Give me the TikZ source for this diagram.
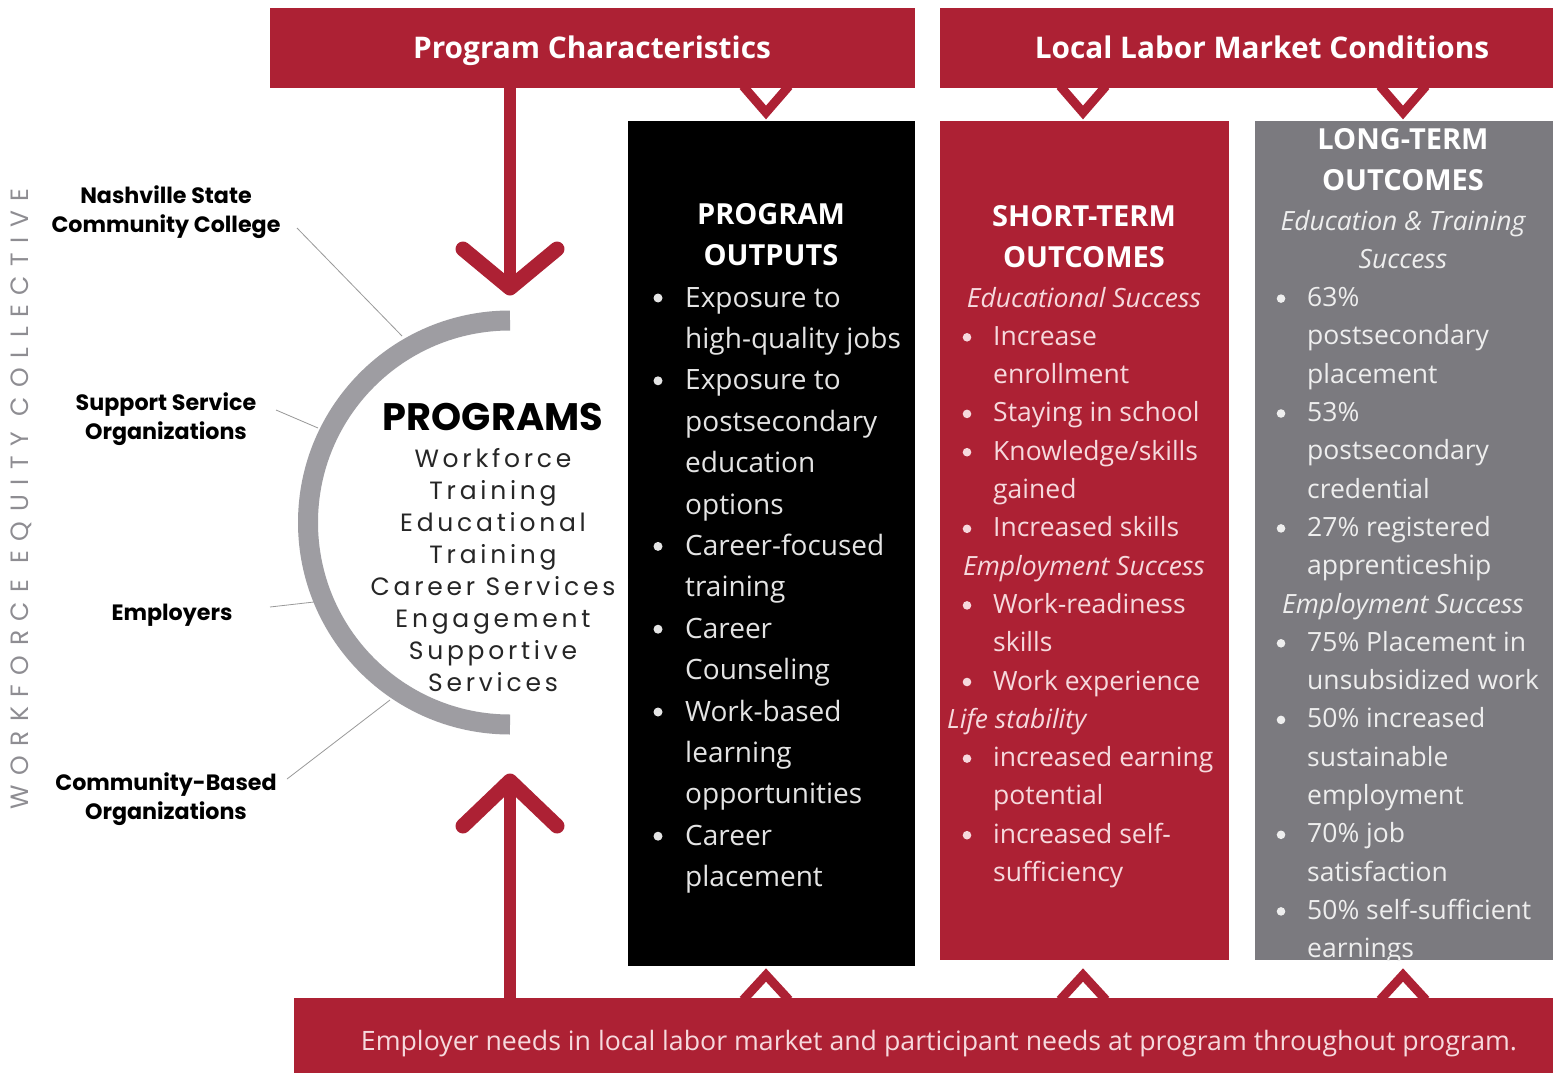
\documentclass[tikz,border=0pt]{standalone}
\usepackage{fontspec}
\setmainfont{Open Sans}
\newfontfamily\pop{Poppins}
\newfontfamily\popls{Poppins}[LetterSpace=15]
\newfontfamily\popvt{Poppins}[LetterSpace=38]
\definecolor{wred}{HTML}{AD2134}
\definecolor{wgray}{HTML}{7B7A7F}
\definecolor{agray}{HTML}{9E9DA2}
\definecolor{vgray}{HTML}{8E8D92}
\definecolor{tblk}{HTML}{E4E4E4}
\definecolor{tred}{HTML}{F6D9DD}
\definecolor{tgry}{HTML}{EEEEEE}
\begin{document}
\begin{tikzpicture}[x=1pt,y=-1pt,
  box/.style={inner sep=0pt, draw=none},
  bantext/.style={text=white, font=\bfseries\fontsize{29.8}{32}\selectfont, inner sep=0pt, anchor=base},
  chev/.style={draw=wred, line width=9pt, line join=miter},
  redarrow/.style={draw=wred, line width=12pt},
  redhead/.style={draw=wred, line width=15pt, line cap=round, line join=round},
  coltitle/.style={font=\bfseries\fontsize{29}{41}\selectfont, align=center, inner sep=0pt},
  blktext/.style={font=\fontsize{28}{34}\selectfont, text=tblk, inner sep=0pt},
  colt/.style={font=\fontsize{26.5}{32}\selectfont, inner sep=0pt},
  colit/.style={font=\itshape\fontsize{26.5}{32}\selectfont, inner sep=0pt},
  orglabel/.style={font=\pop\bfseries\fontsize{22.2}{28.5}\selectfont, align=center, inner sep=0pt},
  thinline/.style={draw=gray!80, line width=0.8pt}
]
\useasboundingbox[fill=white] (0,0) rectangle (1553,1073);

% ---------- top banners ----------
\node[box, fill=wred, minimum width=645, minimum height=80] (pc) at (592.5,48) {};
\node[bantext] (pctext) at (592,58.5) {Program Characteristics};
\node[box, fill=wred, minimum width=613, minimum height=80] (lm) at (1246.5,48) {};
\node[bantext] (lmtext) at (1262,58.5) {Local Labor Market Conditions};

% ---------- columns ----------
\node[box, fill=black, minimum width=287, minimum height=845] (outp) at (771.5,543.5) {};
\node[box, fill=wred, minimum width=289, minimum height=839] (short) at (1084.5,540.5) {};
\node[box, fill=wgray, minimum width=298, minimum height=839] (long) at (1404,540.5) {};

% ---------- bottom banner ----------
\node[box, fill=wred, minimum width=1259, minimum height=75] (emp) at (923.5,1035.5) {};
\node[text=tred, font=\fontsize{26.7}{30}\selectfont, inner sep=0pt, anchor=base] (emptext) at (939,1050)
  {Employer needs in local labor market and participant needs at program throughout program.};

% ---------- chevrons ----------
\foreach \cx in {766,1083,1403}{
  \draw[chev] (\cx-23,86) -- (\cx,112.5) -- (\cx+23,86);
  \draw[chev] (\cx-23,1000) -- (\cx,975) -- (\cx+23,1000);
}

% ---------- red arrows ----------
\coordinate (downtip) at (510,288);
\coordinate (uptip) at (510,781);
\draw[redarrow] (pc.south -| downtip) -- (downtip);
\draw[redhead] (463,249) -- (downtip) -- (557,249);
\draw[redarrow] (emp.north -| uptip) -- (uptip);
\draw[redhead] (463,826) -- (uptip) -- (557,826);

% ---------- arc ----------
\coordinate (arccenter) at (510,522.5);
\draw[agray, line width=20pt] (510,320.5) arc[start angle=270, end angle=90, radius=202];

% ---------- programs ----------
\node[font=\pop\bfseries\fontsize{38.3}{42}\selectfont, inner sep=0pt] (prog) at (493,417) {PROGRAMS};
\node[font=\popls\fontsize{25}{32}\selectfont, align=center, inner sep=0pt, text=black!85] (proglist) at (493,570)
  {Workforce\\Training\\Educational\\Training\\Career Services\\Engagement\\Supportive\\Services};

% ---------- left labels ----------
\node[orglabel] (nsc) at (166,212) {Nashville State\\Community College};
\node[orglabel] (sso) at (166,419) {Support Service\\Organizations};
\node[orglabel] (empl) at (172,615) {Employers};
\node[orglabel] (cbo) at (166,799) {Community-Based\\Organizations};

\coordinate (s1) at (297,228); \coordinate (e1) at (402,336);
\coordinate (s2) at (276,410); \coordinate (e2) at (318,428);
\coordinate (s3) at (270,607); \coordinate (e3) at (314,602);
\coordinate (s4) at (287,779); \coordinate (e4) at (390,700);
\draw[thinline] (s1) -- (e1);
\draw[thinline] (s2) -- (e2);
\draw[thinline] (s3) -- (e3);
\draw[thinline] (s4) -- (e4);

\node[rotate=90, font=\popvt\fontsize{25}{25}\selectfont, text=vgray, inner sep=0pt] (wec) at (21,499)
  {WORKFORCE EQUITY COLLECTIVE};

% ---------- program outputs ----------
\node[coltitle, text=white] (outtitle) at (771,235) {PROGRAM\\OUTPUTS};
\foreach \i/\s in {0/Exposure to, 1/high-quality jobs, 2/Exposure to, 3/postsecondary, 4/education, 5/options,
  6/Career-focused, 7/training, 8/Career, 9/Counseling, 10/Work-based, 11/learning, 12/opportunities,
  13/Career, 14/placement}{
  \node[blktext, anchor=base west] (ob\i) at (685,297+41.4*\i+10) {\s};
}
\foreach \i in {0,2,6,8,10,13}{
  \fill[tblk] (658,297+41.4*\i+1) circle[radius=4.5];
}

% ---------- short-term outcomes ----------
\node[coltitle, text=white] (sttitle) at (1084,237) {SHORT-TERM\\OUTCOMES};
\foreach \i/\s in {0/Educational Success, 7/Employment Success}{
  \node[colit, text=tred, anchor=base] (sh\i) at (1084,298+38.3*\i+9) {\s};
}
\node[colit, text=tred, anchor=base west] (sh11) at (947,298+38.3*11+9) {Life stability};
\foreach \i/\s in {1/Increase, 2/enrollment, 3/Staying in school, 4/Knowledge\slash skills, 5/gained,
  6/Increased skills, 8/Work-readiness, 9/skills, 10/Work experience, 12/increased earning,
  13/potential, 14/increased self-, 15/sufficiency}{
  \node[colt, text=tred, anchor=base west] (st\i) at (993,298+38.3*\i+9) {\s};
}
\foreach \i in {1,3,4,6,8,10,12,14}{
  \fill[tred] (967,298+38.3*\i+1) circle[radius=4.3];
}

% ---------- long-term outcomes ----------
\node[coltitle, text=white] (lttitle) at (1403,160) {LONG-TERM\\OUTCOMES};
\foreach \i/\s in {0/Education \& Training, 1/Success, 10/Employment Success}{
  \node[colit, text=tgry, anchor=base] (lh\i) at (1403,221+38.3*\i+9) {\s};
}
\begin{scope}
\clip (1255,121) rectangle (1553,960);
\foreach \i/\s in {2/63\%, 3/postsecondary, 4/placement, 5/53\%, 6/postsecondary, 7/credential,
  8/27\% registered, 9/apprenticeship, 11/75\% Placement in, 12/unsubsidized work, 13/50\% increased,
  14/sustainable, 15/employment, 16/70\% job, 17/satisfaction, 18/50\% self-sufficient, 19/earnings}{
  \node[colt, text=tgry, anchor=base west] (lt\i) at (1307,221+38.3*\i+9) {\s};
}
\end{scope}
\foreach \i in {2,5,8,11,13,16,18}{
  \fill[tgry] (1281,221+38.3*\i+1) circle[radius=4.3];
}
\end{tikzpicture}
\end{document}
